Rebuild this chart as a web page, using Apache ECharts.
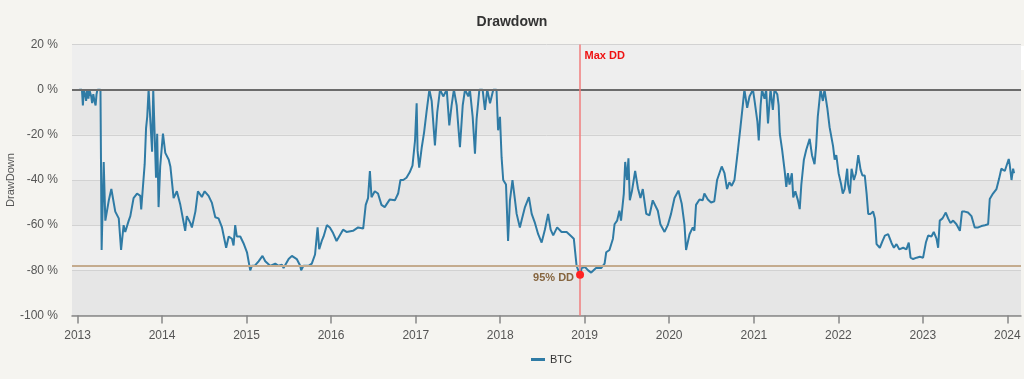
<!DOCTYPE html>
<html>
<head>
<meta charset="utf-8">
<script src="https://cdn.jsdelivr.net/npm/echarts@6/dist/echarts.min.js"></script>
<style>
  html, body { margin: 0; padding: 0; background: #f5f4f0; }
  #chart { width: 1024px; height: 379px; }
</style>
</head>
<body>
<div id="chart"></div>
<script>
// ---- data ----
const dates = [
'2013-01-08','2013-01-20','2013-01-24','2013-01-28','2013-02-04','2013-02-07','2013-02-11','2013-02-17','2013-02-21','2013-03-01',
'2013-03-05','2013-03-10','2013-03-15','2013-03-20','2013-03-24','2013-03-28','2013-04-05','2013-04-10','2013-04-15','2013-04-24',
'2013-05-01','2013-05-16','2013-05-27','2013-06-13','2013-06-28','2013-07-08','2013-07-19','2013-07-26','2013-08-10','2013-08-17',
'2013-08-31','2013-09-15','2013-09-29','2013-10-03','2013-10-09','2013-10-18','2013-10-24','2013-10-29','2013-11-04','2013-11-12',
'2013-11-19','2013-11-24','2013-12-01','2013-12-06','2013-12-11','2013-12-17','2013-12-24',
'2014-01-05','2014-01-15','2014-01-30','2014-02-06','2014-02-20','2014-03-06','2014-03-21','2014-04-11','2014-04-18','2014-05-03',
'2014-05-10','2014-05-25','2014-06-05','2014-06-22','2014-07-04','2014-07-21','2014-08-04','2014-08-19','2014-09-02','2014-09-17',
'2014-10-05','2014-10-16','2014-10-30','2014-11-06','2014-11-13','2014-11-20','2014-12-05','2014-12-19',
'2015-01-03','2015-01-17','2015-01-24','2015-02-05','2015-02-22','2015-03-11','2015-03-23','2015-04-13','2015-05-05','2015-05-19',
'2015-06-03','2015-06-10','2015-07-02','2015-07-16','2015-08-06','2015-08-21','2015-08-25','2015-09-04','2015-09-26','2015-10-10',
'2015-10-24','2015-11-04','2015-11-11','2015-11-22','2015-11-30','2015-12-14','2015-12-27',
'2016-01-10','2016-01-25','2016-02-22','2016-03-08','2016-04-05','2016-04-27','2016-05-19','2016-05-30','2016-06-09','2016-06-17',
'2016-06-24','2016-07-08','2016-07-22','2016-08-06','2016-08-20','2016-09-11','2016-10-03','2016-10-17','2016-10-27','2016-11-08',
'2016-11-22','2016-12-06','2016-12-18','2016-12-29',
'2017-01-05','2017-01-09','2017-01-16','2017-01-27','2017-02-06','2017-02-17','2017-03-01','2017-03-11','2017-03-25','2017-04-04',
'2017-04-16','2017-04-30','2017-05-15','2017-05-26','2017-06-05','2017-06-15','2017-06-27','2017-07-11','2017-07-23','2017-08-02',
'2017-08-16','2017-08-23','2017-09-04','2017-09-14','2017-09-21','2017-10-03','2017-10-17','2017-10-27','2017-11-06','2017-11-18',
'2017-12-02','2017-12-16','2017-12-23','2017-12-31',
'2018-01-07','2018-01-14','2018-01-26','2018-02-04','2018-02-12','2018-02-23','2018-03-06','2018-03-13','2018-03-27','2018-04-03',
'2018-04-18','2018-05-05','2018-05-17','2018-05-31','2018-06-14','2018-06-29','2018-07-13','2018-07-27','2018-08-07','2018-08-18',
'2018-09-04','2018-09-23','2018-10-15','2018-11-05','2018-11-15','2018-11-27','2018-12-12','2018-12-19',
'2019-01-02','2019-01-16','2019-01-29','2019-02-19','2019-03-13','2019-03-28','2019-04-04','2019-04-18','2019-05-03','2019-05-10',
'2019-05-21','2019-05-31','2019-06-07','2019-06-19','2019-06-25','2019-07-03','2019-07-09','2019-07-15','2019-07-24','2019-08-07',
'2019-08-19','2019-08-30','2019-09-09','2019-09-24','2019-10-08','2019-10-22','2019-10-30','2019-11-13','2019-11-24','2019-12-12',
'2019-12-26',
'2020-01-09','2020-01-24','2020-02-10','2020-02-24','2020-03-07','2020-03-14','2020-03-29','2020-04-12','2020-04-19','2020-04-26',
'2020-05-11','2020-05-25','2020-06-01','2020-06-16','2020-06-30','2020-07-14','2020-07-26','2020-08-05','2020-08-15','2020-08-27',
'2020-09-07','2020-09-17','2020-09-27','2020-10-09','2020-10-23','2020-11-04','2020-11-14','2020-11-21','2020-12-03','2020-12-13',
'2020-12-28',
'2021-01-04','2021-01-16','2021-01-22','2021-01-30','2021-02-05','2021-02-16','2021-02-23','2021-03-03','2021-03-10','2021-03-14',
'2021-03-24','2021-03-31','2021-04-07','2021-04-12','2021-04-18','2021-04-23','2021-05-03','2021-05-14','2021-05-21','2021-05-28',
'2021-06-04','2021-06-14','2021-06-20','2021-06-29','2021-07-10','2021-07-18','2021-07-25','2021-08-05','2021-08-15','2021-08-30',
'2021-09-09','2021-09-20','2021-09-27','2021-10-04','2021-10-12','2021-10-16','2021-10-26','2021-11-02','2021-11-08','2021-11-14',
'2021-11-24','2021-12-09','2021-12-16','2021-12-23',
'2022-01-02','2022-01-13','2022-01-20','2022-01-28','2022-02-08','2022-02-12','2022-02-20','2022-02-27','2022-03-09','2022-03-18',
'2022-03-28','2022-04-07','2022-04-15','2022-04-25','2022-05-03','2022-05-10','2022-05-20','2022-05-31','2022-06-08','2022-06-15',
'2022-06-29','2022-07-11','2022-07-21','2022-08-04','2022-08-11','2022-08-19','2022-08-29','2022-09-09','2022-09-21','2022-10-08',
'2022-10-22','2022-11-01','2022-11-09','2022-11-20','2022-12-05','2022-12-19',
'2023-01-02','2023-01-14','2023-01-24','2023-02-07','2023-02-17','2023-03-01','2023-03-08','2023-03-15','2023-03-27','2023-04-10',
'2023-04-20','2023-04-30','2023-05-12','2023-05-26','2023-06-10','2023-06-19','2023-07-01','2023-07-15','2023-07-30','2023-08-13',
'2023-08-28','2023-09-11','2023-09-26','2023-10-10','2023-10-17','2023-10-31','2023-11-15','2023-11-26','2023-12-06','2023-12-21',
'2023-12-28',
'2024-01-07','2024-01-11','2024-01-19','2024-01-26','2024-01-30'
];
const btcDrawdown = [
0,0,-7,0,-3,-5,0,-4,0,-3,
-6,-2,-5,-7,-2,0,0,0,-71,-32,
-58,-49,-44,-54,-57,-71,-60,-63,-58,-56,
-48,-46,-47,-53,-45,-33,-17,-12,0,0,
-27.5,0,0,-39,-19.5,-52,-34,
-19.5,-28,-31,-34,-48,-45,-51,-62.5,-56,-59,
-61,-54,-45,-47.5,-45,-47,-50,-56.5,-57,-61,
-70,-65,-66,-69,-60,-65,-65,-68,
-72,-80,-78,-78,-76,-73.6,-76,-78,-77,-78,
-77.5,-79,-75,-73.6,-75,-78,-80,-78,-78,-77,
-73,-61,-70.6,-67,-65,-60,-61,
-63.5,-67,-62,-63,-62.5,-61,-61.5,-51,-48,-36,
-47.6,-45,-46,-51,-52,-48.6,-49,-46,-40,-40,
-39,-36.6,-33.6,-22.5,
-6,-27,-34.5,-25.6,-19,-9.6,0,-5,-24.7,-10,
0,-3,0,-15.8,-7,0,-7,-25.5,-7,0,
-3,0,-12,-28.4,-13,0,0,-9,0,-6,
0,0,-18,-12,
-30,-40,-42,-67,-49,-40,-49,-55,-61,-58,
-52,-47.6,-55,-59,-64,-67.7,-62,-55,-62,-64.5,
-61,-63,-63,-65,-66,-78,-82,-79,
-78.5,-80,-81,-79,-79,-77,-72,-71,-66,-59.6,
-58,-53.6,-58,-46,-32,-40,-30.4,-49,-45,-36,
-43.6,-48,-44,-55,-55.6,-49,-48.4,-53.6,-59.6,-63,
-60,
-55,-48,-44.7,-50.4,-59.6,-71,-64,-61,-62.5,-51,
-48.6,-49,-46,-48.6,-50,-49.4,-40,-37,-34,-37,
-44,-41,-42.6,-40,-27.7,-16.6,-7,0,-8,-3,
0,
-5,-14,-22.5,-7,0,-4,0,-15,-5,0,
-9,0,0,-2,-7,-19.6,-26.7,-36,-43,-37,
-42,-37,-47.7,-45,-48.9,-52.9,-42,-31,-26.7,-21.8,
-29,-33,-25,-12,-4,0,-5,0,0,-8,
-16.6,-25,-31,-29,
-37,-42,-46,-44,-35,-42,-46,-35,-40,-37,
-29,-35.5,-38,-38,-46,-55,-55,-54,-57,-68.4,
-70,-67,-64.6,-64,-63.3,-68,-70,-68.4,-70.7,-70,
-70.7,-67.7,-74.4,-75,-74.4,-74,
-74.4,-67.7,-64.6,-65,-63,-66,-70,-58,-57,-54.4,
-57,-59,-58,-59.6,-62.5,-54,-54,-54.4,-56,-61,
-61,-60.4,-60,-59.6,-48.4,-46,-44,-39.6,-35,-36,
-35.6,
-30.7,-33,-40,-35,-37
];
const yearTicks = ['2013','2014','2015','2016','2017','2018','2019','2020','2021','2022','2023','2024'];
const xMinDate = '2012-12-08';
const xMaxDate = '2024-02-29';
const maxDDDate = '2018-12-12';
const maxDDValue = -82;
const dd95Value = -78;
const seriesName = 'BTC';

// ---- chart ----
const parseDate = s => { const p = s.split('-').map(Number); return Date.UTC(p[0], p[1] - 1, p[2]); };
const lineData = dates.map((d, i) => [parseDate(d), btcDrawdown[i]]);
const yearValues = yearTicks.map(y => Date.UTC(Number(y), 0, 1));
const FONT = '"Liberation Sans", Arial, sans-serif';

const chart = echarts.init(document.getElementById('chart'), null, { renderer: 'canvas' });
chart.setOption({
  backgroundColor: '#f5f4f0',
  animation: false,
  textStyle: { fontFamily: FONT },
  title: {
    text: 'Drawdown', left: 'center', top: 10,
    textStyle: { fontSize: 14, fontWeight: 'bold', color: '#333333', fontFamily: FONT }
  },
  legend: {
    bottom: 9, left: 526,
    icon: 'rect', itemWidth: 14, itemHeight: 3, itemGap: 6,
    textStyle: { fontSize: 11, color: '#333333', fontFamily: FONT },
    data: [seriesName]
  },
  grid: { left: 72, right: 3, top: 44.5, bottom: 63.5, containLabel: false, outerBoundsMode: 'none' },
  xAxis: {
    type: 'value',
    min: parseDate(xMinDate), max: parseDate(xMaxDate),
    axisLine: { show: true, onZero: false, lineStyle: { color: '#868686', width: 1.5 } },
    axisTick: { show: true, length: 8, lineStyle: { color: '#868686', width: 1.5 }, customValues: yearValues },
    axisLabel: {
      customValues: yearValues,
      formatter: v => String(new Date(v).getUTCFullYear()),
      color: '#555555', fontSize: 12, margin: 14, fontFamily: FONT, hideOverlap: false
    },
    splitLine: { show: false }
  },
  yAxis: {
    type: 'value', min: -100, max: 20, interval: 20,
    name: 'DrawDown', nameLocation: 'middle', nameGap: 56, nameMoveOverlap: false,
    nameTextStyle: { color: '#555555', fontSize: 11, fontFamily: FONT },
    axisLine: { show: false }, axisTick: { show: false },
    axisLabel: { formatter: '{value} %', color: '#555555', fontSize: 12, margin: 14, fontFamily: FONT },
    splitLine: { show: true, lineStyle: { color: '#d2d2d2', width: 1 } },
    splitArea: { show: true, areaStyle: { color: ['#e6e6e6', '#eeeeee'] } }
  },
  series: [{
    name: seriesName, type: 'line', data: lineData,
    showSymbol: false, symbol: 'none',
    itemStyle: { color: '#2f7ba5' },
    lineStyle: { color: '#2f7ba5', width: 2 },
    markLine: {
      silent: true, symbol: 'none', animation: false,
      label: { show: false },
      data: [
        { yAxis: 0, lineStyle: { color: '#6b6b6b', width: 2, type: 'solid' } },
        { yAxis: dd95Value, lineStyle: { color: '#c4ab8e', width: 2, type: 'solid' } },
        { xAxis: parseDate(maxDDDate), lineStyle: { color: '#f07d7d', width: 1.5, type: 'solid' } }
      ]
    },
    markPoint: {
      silent: true, animation: false,
      data: [
        {
          coord: [parseDate(maxDDDate), 20], symbol: 'circle', symbolSize: 1,
          itemStyle: { color: 'rgba(0,0,0,0)' },
          label: { show: true, position: 'right', distance: 4, offset: [0, 11], formatter: 'Max DD',
                   color: '#ee1111', fontWeight: 'bold', fontSize: 11, fontFamily: FONT }
        },
        {
          coord: [parseDate(maxDDDate), maxDDValue], symbol: 'circle', symbolSize: 8,
          itemStyle: { color: '#ff2222' },
          label: { show: true, position: 'left', distance: 2, offset: [0, 3], formatter: '95% DD',
                   color: '#86653f', fontWeight: 'bold', fontSize: 11, fontFamily: FONT }
        }
      ]
    }
  }],
  graphic: [{
    type: 'group', right: 0, top: 46,
    children: [
      { type: 'rect', shape: { x: 0, y: 0, width: 24, height: 24 }, style: { fill: '#ffffff' } },
      { type: 'rect', shape: { x: 5, y: 6.5, width: 15, height: 2.5 }, style: { fill: '#666666' } },
      { type: 'rect', shape: { x: 5, y: 11, width: 15, height: 2.5 }, style: { fill: '#666666' } },
      { type: 'rect', shape: { x: 5, y: 15.5, width: 15, height: 2.5 }, style: { fill: '#666666' } }
    ]
  }]
});
</script>
</body>
</html>
